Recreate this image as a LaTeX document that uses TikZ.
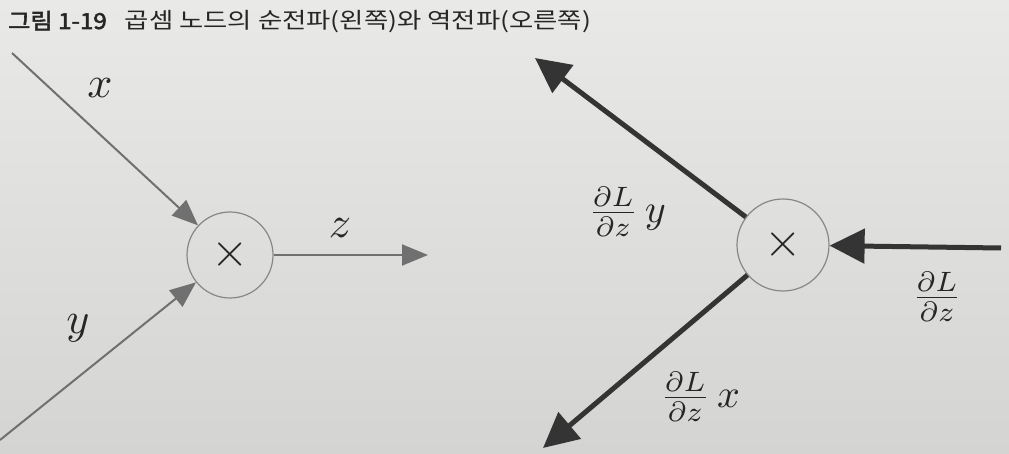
\documentclass[tikz,border=0pt]{standalone}
\usepackage{fontspec}
\usepackage{amsmath}
\newfontfamily\krfont[FakeStretch=1.2]{Noto Sans CJK KR}
\newfontfamily\krbold[FakeBold=2.5,FakeStretch=1.1]{Noto Sans CJK KR}
\usetikzlibrary{arrows.meta}
\newcommand\bigmath[2]{\scalebox{#1}{$#2$}}
\definecolor{bgtop}{RGB}{233,233,231}
\definecolor{bgbot}{RGB}{212,212,210}
\definecolor{fwdcol}{RGB}{112,112,112}
\definecolor{bwdcol}{RGB}{52,52,52}
\definecolor{inkcol}{RGB}{38,38,38}
\definecolor{circcol}{RGB}{135,135,135}
\tikzset{
  circ/.style={circle, draw=circcol, line width=1.2pt, inner sep=0pt, text=inkcol},
  fwd/.style={draw=fwdcol, line width=2pt, -{Triangle[length=26pt,width=21pt]}},
  bwd/.style={draw=bwdcol, line width=5pt, -{Triangle[length=35pt,width=34pt]}},
  lbl/.style={text=inkcol, inner sep=0pt},
}
\begin{document}
\begin{tikzpicture}[x=1pt,y=-1pt]
\shade[top color=bgtop, bottom color=bgbot] (0,0) rectangle (1009,454);
\useasboundingbox (0,0) rectangle (1009,454);
% title
\node[anchor=base west, inner sep=0pt, text=inkcol] (title) at (8,29)
  {{\krbold\fontsize{22pt}{26pt}\selectfont 그림 1-19}\hspace{18pt}{\krfont\fontsize{22pt}{26pt}\selectfont 곱셈 노드의 순전파(왼쪽)와 역전파(오른쪽)}};
% forward (left)
\node[circ, minimum size=86pt] (m1) at (230,255) {\bigmath{4.8}{\times}};
\coordinate (xs) at (12,53);
\coordinate (ys) at (0,440);
\coordinate (ze) at (428,255);
\draw[fwd] (xs) -- (m1);
\draw[fwd] (ys) -- (m1);
\draw[fwd] (m1) -- (ze);
\node[lbl] (lx) at (100,88) {\bigmath{4.4}{x}};
\node[lbl] (ly) at (78,328) {\bigmath{4.4}{y}};
\node[lbl] (lz) at (340,228) {\bigmath{4.4}{z}};
% backward (right)
\node[circ, minimum size=92pt] (m2) at (783,245) {\bigmath{4.8}{\times}};
\coordinate (t1) at (535,58);
\coordinate (t2) at (543,448);
\coordinate (src) at (1001,248);
\draw[bwd] (m2) -- (t1);
\draw[bwd] (m2) -- (t2);
\draw[bwd] (src) -- (m2);
\node[lbl] (ld1) at (627,212) {\bigmath{4}{\frac{\partial L}{\partial z}\,y}};
\node[lbl] (ld2) at (700,397) {\bigmath{4}{\frac{\partial L}{\partial z}\,x}};
\node[lbl] (ld3) at (937,297) {\bigmath{4}{\frac{\partial L}{\partial z}}};
\end{tikzpicture}
\end{document}
